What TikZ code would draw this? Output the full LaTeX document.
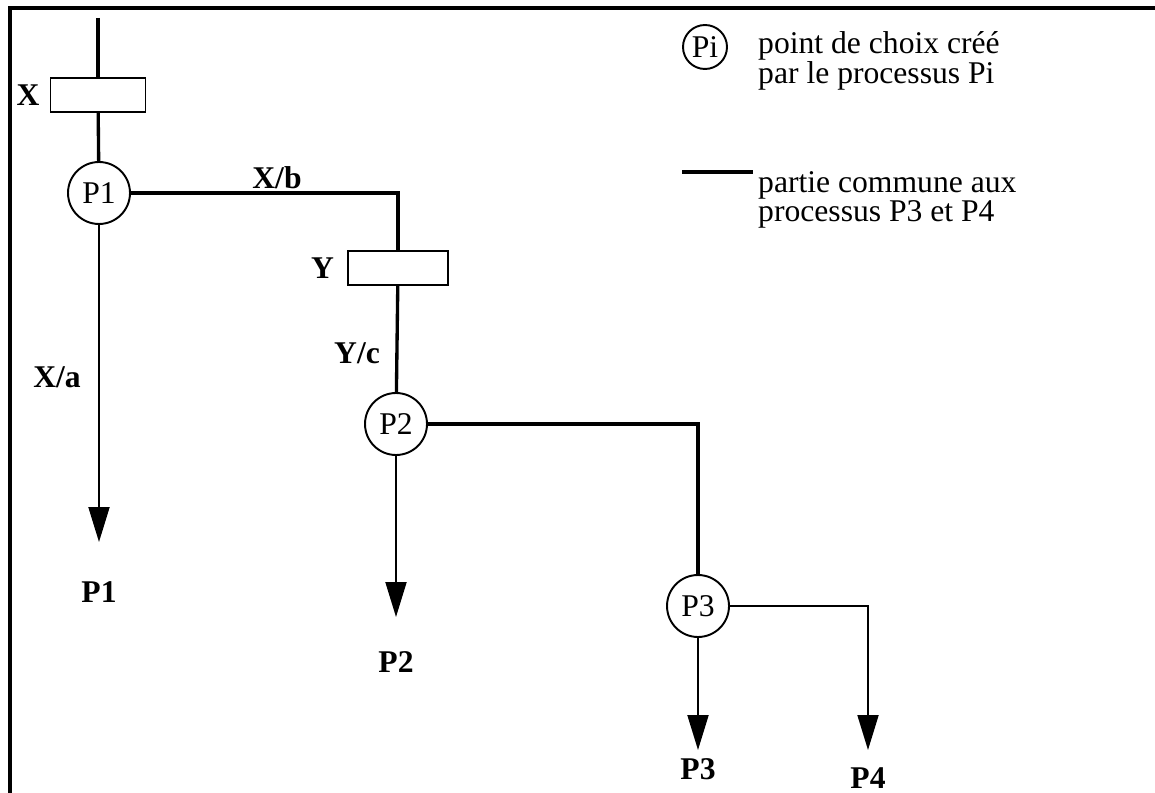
\documentclass[tikz,border=0pt]{standalone}
\usepackage{fontspec}
\setmainfont{Liberation Serif}
\usetikzlibrary{arrows.meta,positioning}
\newcommand\diagfont{\fontsize{18}{15.5}\selectfont}
\tikzset{
  choice/.style={circle,draw,line width=1.1pt,minimum size=1.24cm,inner sep=0pt},
  guard/.style={rectangle,draw,line width=1.1pt,minimum width=1.9cm,
    minimum height=0.68cm,inner sep=0pt},
  common/.style={line width=1.9pt},
  branch/.style={-{Triangle[length=0.7cm,width=0.42cm]},line width=1.1pt},
  lbl/.style={font=\diagfont\bfseries,inner sep=1pt}
}

\begin{document}
\begin{tikzpicture}[x=0.02cm,y=-0.02cm,font=\diagfont]
  \useasboundingbox (0,0) rectangle (1155,793);
  \draw[line width=1.9pt] (10,793) -- (10,8) -- (1155,8);

  % guards and choice points
  \coordinate (in) at (98,18);
  \node[guard] (boxX) at (98,95) {};
  \node[lbl,left=0.16cm of boxX] (labX) {X};
  \node[choice] (P1) at (99,193) {P1};
  \node[guard,minimum width=2cm] (boxY) at (398,268) {};
  \node[lbl,left=0.22cm of boxY] (labY) {Y};
  \node[choice] (P2) at (396,424) {P2};
  \node[choice] (P3) at (698,606) {P3};

  \node[lbl] (labXb) at (277,178) {X/b};
  \node[lbl] (labYc) at (357,353) {Y/c};
  \node[lbl] (labXa) at (57,377) {X/a};

  % ends of the branches
  \coordinate (tipP1) at (99,542);
  \coordinate (tipP2) at (396,617);
  \coordinate (tipP3) at (698,750);
  \coordinate (tipP4) at (868,750);
  \node[lbl] (outP1) at (99,592) {P1};
  \node[lbl] (outP2) at (396,662) {P2};
  \node[lbl] (outP3) at (698,769) {P3};
  \node[lbl] (outP4) at (868,778) {P4};

  \draw[common] (in) -- (boxX);
  \draw[common] (boxX) -- (P1);
  \draw[common] (P1.east) -| (boxY.north);
  \draw[common] (boxY) -- (P2);
  \draw[common] (P2.east) -| (P3.north);
  \draw[branch] (P1) -- (tipP1);
  \draw[branch] (P2) -- (tipP2);
  \draw[branch] (P3) -- (tipP3);
  \draw[branch] (P3.east) -| (tipP4);

  % legend
  \node[choice,minimum size=0.88cm] (key) at (705,47) {Pi};
  \node[anchor=west,align=left] (keytext) at (752,61)
    {point de choix créé\\par le processus Pi};
  \coordinate (keyA) at (682,172);
  \coordinate (keyB) at (753,172);
  \draw[common] (keyA) -- (keyB);
  \node[anchor=west,align=left] (commontext) at (752,200)
    {partie commune aux\\processus P3 et P4};
\end{tikzpicture}
\end{document}
